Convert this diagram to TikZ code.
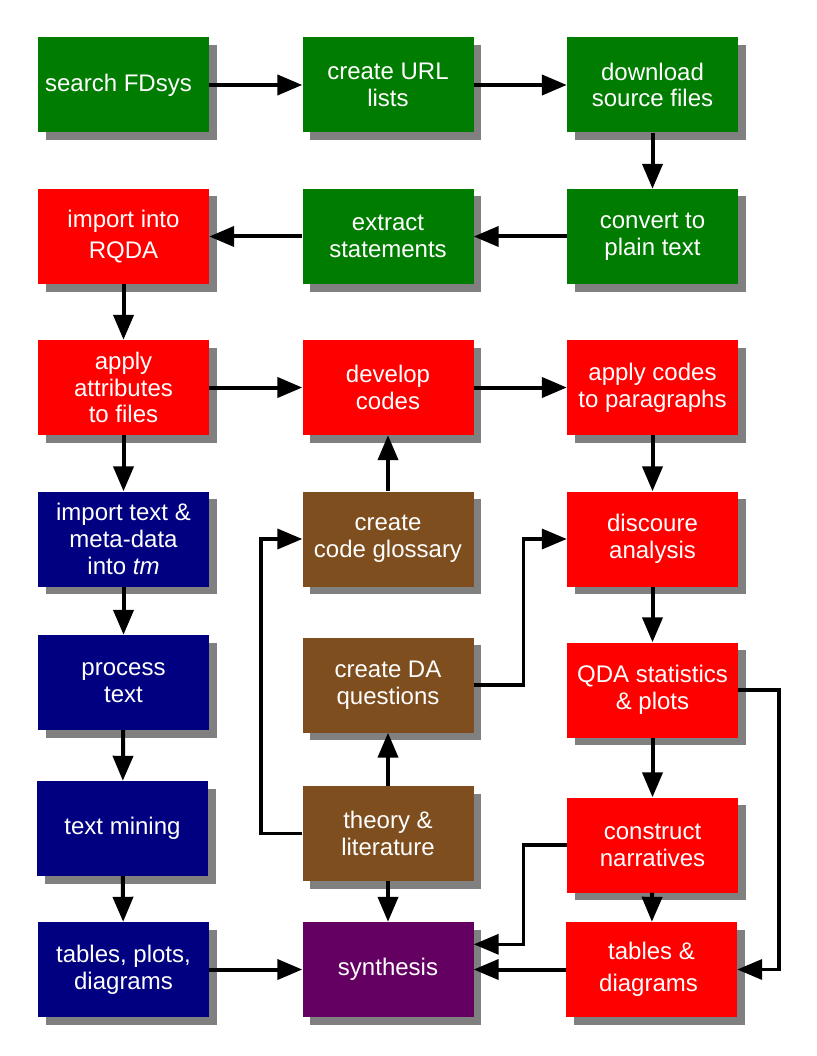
\documentclass[tikz,border=0pt]{standalone}
\usepackage{fontspec}
\setmainfont{Liberation Sans}
\usetikzlibrary{arrows.meta,shadows}
\definecolor{boxgreen}{RGB}{0,125,0}
\definecolor{boxred}{RGB}{255,0,0}
\definecolor{boxnavy}{RGB}{0,0,128}
\definecolor{boxbrown}{RGB}{126,78,30}
\definecolor{boxpurple}{RGB}{100,0,98}
\definecolor{shadowgray}{RGB}{128,128,128}
\tikzset{
  box/.style={rectangle, minimum width=171pt, minimum height=95pt, inner sep=0pt,
    align=center, text=white, font=\fontsize{24}{26.8}\selectfont,
    drop shadow={shadow xshift=7.5pt, shadow yshift=-7.5pt, fill=shadowgray, opacity=1}},
  gbox/.style={box, fill=boxgreen},
  rbox/.style={box, fill=boxred},
  nbox/.style={box, fill=boxnavy},
  bbox/.style={box, fill=boxbrown},
  pbox/.style={box, fill=boxpurple},
  arr/.style={draw=black, line width=4pt, -{Triangle[length=25pt,width=20pt]}},
  elbow/.style={arr, line width=3.6pt},
}
\begin{document}
\begin{tikzpicture}[x=1pt,y=-1pt]
\useasboundingbox[fill=white] (0,0) rectangle (816,1056);
% row 1
\node[gbox] (search) at (123.5,85) {search FDsys\hspace*{10pt}};
\node[gbox] (url) at (388,85) {create URL\\lists};
\node[gbox] (download) at (652.5,85) {download\\source files};
% row 2
\node[rbox] (rqda) at (123.5,236.5) {import into\\[4pt]RQDA};
\node[gbox] (extract) at (388,236.5) {extract\\statements};
\node[gbox] (convert) at (652.5,236.5) {convert to\\plain text};
% row 3
\node[rbox] (attrs) at (123.5,387.5) {apply\\attributes\\to files};
\node[rbox] (develop) at (388,387.5) {develop\\codes};
\node[rbox] (applycodes) at (652.5,387.5) {apply codes\\to paragraphs};
% row 4
\node[nbox] (importtm) at (123.5,539) {import text \&\\meta-data\\into \textit{tm}};
\node[bbox] (glossary) at (388,539) {create\\code glossary};
\node[rbox] (discoure) at (652.5,539) {discoure\\analysis};
% row 5
\node[nbox] (process) at (123.5,682.5) {process\\text};
\node[bbox] (daq) at (388,685) {create DA\\questions};
\node[rbox] (qda) at (652.5,690) {QDA statistics\\\& plots};
% row 6
\node[nbox] (mining) at (122.5,828.5) {text mining};
\node[bbox] (theory) at (388,833.5) {theory \&\\literature};
\node[rbox] (narratives) at (652.5,845) {construct\\narratives};
% row 7
\node[nbox] (tpd) at (123.5,969.5) {tables, plots,\\diagrams};
\node[pbox] (synthesis) at (388,969.5) {synthesis};
\node[rbox] (tad) at (651.5,969.5) {tables \&\\[5pt]diagrams\hspace*{6pt}};
% elbow helper coordinates
\coordinate (cL) at (260.7,0);
\coordinate (cM) at (523.3,0);
\coordinate (cR) at (779,0);
\coordinate (cN) at (523.3,944.3);
% straight connectors
\draw[arr] (search) -- (url);
\draw[arr] (url) -- (download);
\draw[arr] (download) -- (convert);
\draw[arr] (convert) -- (extract);
\draw[arr] (extract) -- (rqda);
\draw[arr] (rqda) -- (attrs);
\draw[arr] (attrs) -- (develop);
\draw[arr] (develop) -- (applycodes);
\draw[arr] (applycodes) -- (discoure);
\draw[arr] (attrs) -- (importtm);
\draw[arr] (importtm) -- (process);
\draw[arr] (process) -- (mining);
\draw[arr] (mining) -- (tpd);
\draw[arr] (tpd) -- (synthesis);
\draw[arr] (glossary) -- (develop);
\draw[arr] (theory) -- (daq);
\draw[arr] (theory) -- (synthesis);
\draw[arr] (discoure) -- (qda);
\draw[arr] (qda.south) -- (narratives.north);
\draw[arr] (narratives) -- (tad);
\draw[arr] (tad.west) -- (synthesis.east);
% elbow connectors
\draw[elbow] (theory.west) -- (theory.west -| cL) |- (glossary.west);
\draw[elbow] (daq.east) -- (daq.east -| cM) |- (discoure.west);
\draw[elbow] (qda.east) -- (qda.east -| cR) |- (tad.east);
\draw[elbow] (narratives.west) -| (cN) -- (cN -| synthesis.east);
\end{tikzpicture}
\end{document}
